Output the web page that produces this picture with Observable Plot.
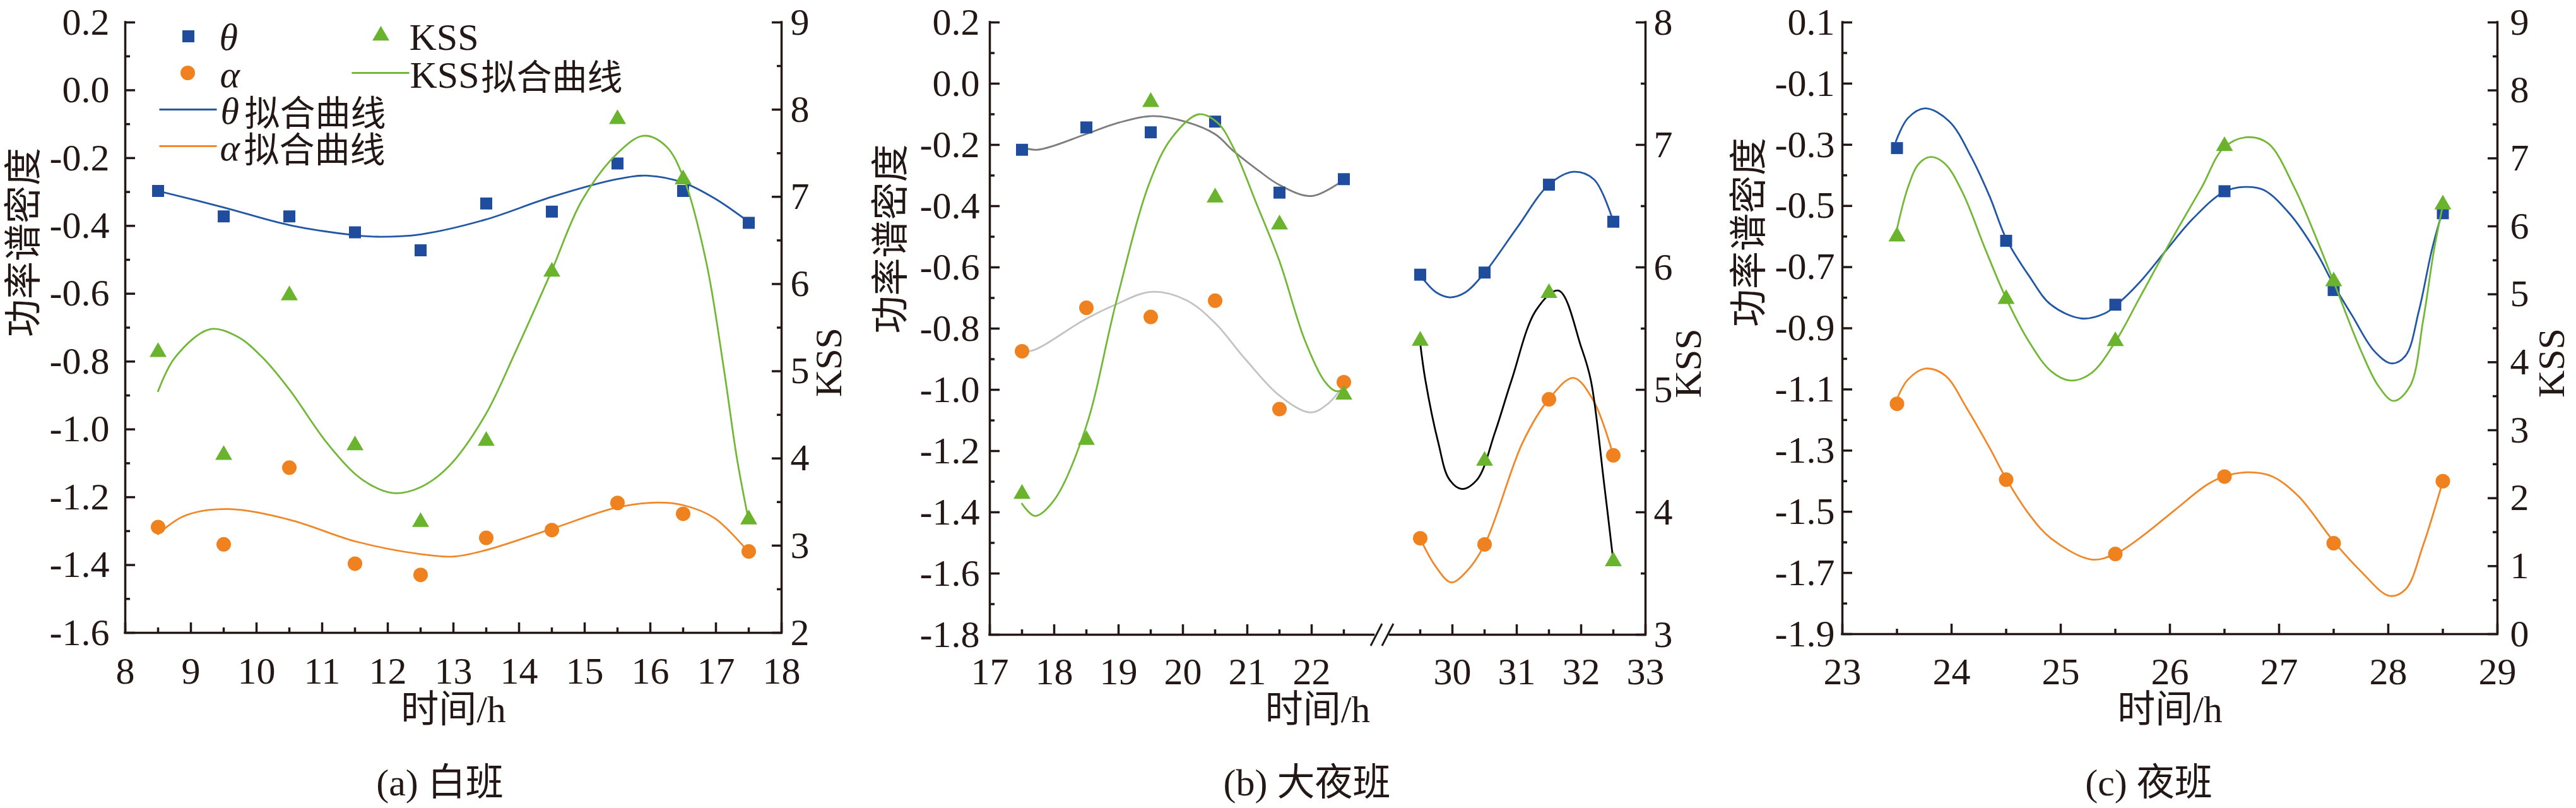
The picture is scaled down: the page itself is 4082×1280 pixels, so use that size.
<!DOCTYPE html>
<html><head><meta charset="utf-8">
<script src="https://cdn.jsdelivr.net/npm/d3@7"></script>
<script src="https://cdn.jsdelivr.net/npm/@observablehq/plot@0.6"></script>
<style>
html,body{margin:0;padding:0;background:#fff;}
#root{position:relative;width:4082px;height:1280px;overflow:hidden;font-family:"Liberation Serif","Noto Sans CJK SC",serif;color:#231815;}
.panel{position:absolute;top:0;height:1180px;}
.panel svg{font-family:"Liberation Serif","Noto Sans CJK SC",serif !important;}
.caption{position:absolute;top:1202px;font-size:60px;line-height:76px;white-space:nowrap;transform:translateX(-50%);}
</style></head><body><div id="root"></div>
<script>
// ---------- data: (a) 白班 ----------
const hoursA = [8.5, 9.5, 10.5, 11.5, 12.5, 13.5, 14.5, 15.5, 16.5, 17.5];
const thetaA = [-0.297, -0.372, -0.372, -0.419, -0.472, -0.334, -0.358, -0.216, -0.297, -0.391];
const alphaA = [-1.288, -1.339, -1.113, -1.396, -1.429, -1.320, -1.297, -1.217, -1.249, -1.360];
const kssA   = [5.22, 4.04, 5.87, 4.15, 3.27, 4.20, 6.14, 7.89, 7.20, 3.30];
const thetaFitHoursA = [8.5, 9.49, 10.51, 11.52, 11.86, 12.5, 13.48, 14.49, 15.5, 15.97, 16.51, 16.98, 17.49];
const thetaFitA      = [-0.297, -0.345, -0.398, -0.428, -0.432, -0.425, -0.382, -0.315, -0.262, -0.252, -0.273, -0.319, -0.387];
const alphaFitHoursA = [8.5, 8.89, 9.56, 10.51, 11.52, 12.5, 13.0, 13.48, 14.49, 15.5, 16.1, 16.51, 16.98, 17.49];
const alphaFitA      = [-1.309, -1.256, -1.235, -1.267, -1.331, -1.368, -1.375, -1.357, -1.294, -1.230, -1.216, -1.224, -1.262, -1.360];
const kssFitHoursA = [8.5, 8.75, 9.28, 9.70, 10.10, 10.51, 11.05, 11.52, 11.86, 12.12, 12.5, 12.93, 13.48, 13.95, 14.49, 14.96, 15.5, 15.9, 16.24, 16.51, 16.85, 17.12, 17.32, 17.49];
const kssFitA      = [4.77, 5.15, 5.48, 5.40, 5.15, 4.78, 4.20, 3.81, 3.65, 3.60, 3.67, 3.91, 4.49, 5.23, 6.14, 6.96, 7.50, 7.70, 7.58, 7.21, 6.26, 5.03, 4.00, 3.32];

// ---------- data: (b) 大夜班 ----------
const hoursB = [17.5, 18.5, 19.5, 20.5, 21.5, 22.5, 29.5, 30.5, 31.5, 32.5];
const thetaB = [-0.216, -0.143, -0.159, -0.124, -0.356, -0.312, -0.624, -0.617, -0.330, -0.451];
const alphaB = [-0.874, -0.732, -0.762, -0.709, -1.063, -0.975, -1.485, -1.505, -1.031, -1.214];
const kssB   = [4.15, 4.59, 7.35, 6.57, 6.35, 4.96, 5.40, 4.42, 5.79, 3.60];
const thetaFitHoursB1 = [17.5, 17.74, 18.48, 18.96, 19.53, 20.05, 20.5, 20.79, 21.15, 21.5, 22.0, 22.5];
const thetaFitB1      = [-0.207, -0.216, -0.166, -0.130, -0.106, -0.125, -0.165, -0.221, -0.280, -0.331, -0.367, -0.314];
const alphaFitHoursB1 = [17.5, 17.64, 18.48, 18.96, 19.51, 20.05, 20.49, 20.97, 21.5, 21.98, 22.25, 22.5];
const alphaFitB1      = [-0.867, -0.873, -0.770, -0.721, -0.680, -0.707, -0.780, -0.900, -1.019, -1.074, -1.046, -0.984];
const kssFitHoursB1 = [17.5, 17.7, 18.0, 18.49, 18.96, 19.48, 19.83, 20.25, 20.54, 20.79, 21.15, 21.5, 21.89, 22.2, 22.37, 22.5];
const kssFitB1      = [4.07, 3.97, 4.10, 4.69, 5.71, 6.69, 7.06, 7.25, 7.18, 6.97, 6.51, 6.05, 5.41, 5.07, 4.99, 5.00];
const thetaFitHoursB2 = [29.5, 29.75, 29.96, 30.2, 30.5, 31.0, 31.5, 31.88, 32.2, 32.5];
const thetaFitB2      = [-0.626, -0.682, -0.698, -0.682, -0.618, -0.472, -0.330, -0.288, -0.313, -0.450];
const alphaFitHoursB2 = [29.5, 29.74, 29.98, 30.2, 30.5, 31.09, 31.49, 31.88, 32.19, 32.5];
const alphaFitB2      = [-1.486, -1.577, -1.629, -1.598, -1.506, -1.173, -1.033, -0.961, -1.035, -1.214];
const kssFitHoursB2 = [29.5, 29.58, 29.78, 29.95, 30.15, 30.39, 30.66, 30.92, 31.3, 31.65, 32.0, 32.15, 32.36, 32.5];
const kssFitB2      = [5.38, 5.08, 4.57, 4.27, 4.19, 4.27, 4.65, 5.08, 5.65, 5.81, 5.35, 5.08, 4.22, 3.60];

// ---------- data: (c) 夜班 ----------
const hoursC = [23.5, 24.5, 25.5, 26.5, 27.5, 28.5];
const thetaC = [-0.311, -0.614, -0.823, -0.452, -0.775, -0.524];
const alphaC = [-1.147, -1.395, -1.638, -1.385, -1.603, -1.400];
const kssC   = [5.85, 4.93, 4.31, 7.18, 5.19, 6.32];
const thetaFitHoursC = [23.49, 23.6, 23.76, 23.98, 24.18, 24.35, 24.5, 24.71, 24.91, 25.19, 25.4, 25.5, 25.72, 25.97, 26.21, 26.49, 26.68, 26.86, 27.1, 27.35, 27.5, 27.67, 27.87, 28.03, 28.16, 28.28, 28.4, 28.5];
const thetaFitC      = [-0.289, -0.213, -0.181, -0.224, -0.340, -0.470, -0.607, -0.729, -0.823, -0.868, -0.852, -0.827, -0.751, -0.643, -0.542, -0.455, -0.438, -0.448, -0.527, -0.657, -0.758, -0.859, -0.974, -1.015, -0.989, -0.844, -0.643, -0.513];
const alphaFitHoursC = [23.49, 23.6, 23.76, 23.94, 24.14, 24.35, 24.5, 24.71, 24.91, 25.28, 25.5, 25.72, 26.05, 26.33, 26.49, 26.72, 26.94, 27.18, 27.5, 27.75, 28.01, 28.16, 28.32, 28.5];
const alphaFitC      = [-1.140, -1.068, -1.032, -1.054, -1.162, -1.292, -1.392, -1.508, -1.587, -1.656, -1.638, -1.587, -1.493, -1.414, -1.385, -1.371, -1.385, -1.450, -1.597, -1.695, -1.775, -1.753, -1.609, -1.400];
const kssFitHoursC = [23.49, 23.6, 23.7, 23.81, 23.94, 24.1, 24.31, 24.5, 24.71, 24.91, 25.09, 25.28, 25.5, 25.72, 26.01, 26.29, 26.49, 26.7, 26.9, 27.14, 27.35, 27.51, 27.75, 27.91, 28.05, 28.2, 28.32, 28.42, 28.5];
const kssFitC      = [5.89, 6.57, 6.92, 7.02, 6.92, 6.50, 5.66, 4.94, 4.30, 3.87, 3.73, 3.84, 4.30, 4.94, 5.79, 6.57, 7.15, 7.31, 7.22, 6.57, 5.79, 5.14, 4.17, 3.65, 3.43, 3.65, 4.62, 5.66, 6.31];

// ---------- ticks ----------
const xTicksA = [8, 9, 10, 11, 12, 13, 14, 15, 16, 17, 18];
const yTicksA = [0.2, 0.0, -0.2, -0.4, -0.6, -0.8, -1.0, -1.2, -1.4, -1.6];
const kTicksA = [2, 3, 4, 5, 6, 7, 8, 9];
const xTicksB = [17, 18, 19, 20, 21, 22, 30, 31, 32, 33];
const xMinorB = [17.5, 18.5, 19.5, 20.5, 21.5, 22.5, 29.5, 30.5, 31.5, 32.5];
const xBreakB = [22.5, 29.5];
const yTicksB = [0.2, 0.0, -0.2, -0.4, -0.6, -0.8, -1.0, -1.2, -1.4, -1.6, -1.8];
const kTicksB = [3, 4, 5, 6, 7, 8];
const xTicksC = [23, 24, 25, 26, 27, 28, 29];
const yTicksC = [0.1, -0.1, -0.3, -0.5, -0.7, -0.9, -1.1, -1.3, -1.5, -1.7, -1.9];
const kTicksC = [0, 1, 2, 3, 4, 5, 6, 7, 8, 9];

// ---------- styles ----------
const INK = "#231815";
const BLUE = "#1f4c9c", ORANGE = "#ef821f", GREEN = "#6ab42d";
const BLUE_L = "#2257a6", ORANGE_L = "#f0882a", GREEN_L = "#72b836", GRAY_L = "#7d7d7d", LGRAY_L = "#c3c3c3", BLACK_L = "#000000";
const FONT = '"Liberation Serif","Noto Sans CJK SC",serif';
const H = 1180, AX = 3.5, LW = 2.8, FS = 60;
const mids = a => d3.pairs(a, (p, q) => (p + q) / 2);
const fmt1 = d => d.toFixed(1);
const fmt0 = d => String(d);
const slash = {draw(ctx) { ctx.moveTo(-9, 17.5); ctx.lineTo(9, -17.5); }};
const hline = {draw(ctx) { ctx.moveTo(-45.5, 0); ctx.lineTo(45.5, 0); }};

// legend (panel a), offsets measured from the frame's top-left corner
const legendSymbolsA = [
  {sym: "square", color: BLUE, x: 100, y: 22, r: 10.7, stroke: false},
  {sym: "circle", color: ORANGE, x: 99, y: 80, r: 11.5, stroke: false},
  {sym: hline, color: BLUE_L, x: 99.5, y: 138, r: 5, stroke: true},
  {sym: hline, color: ORANGE_L, x: 99.5, y: 196, r: 5, stroke: true},
  {sym: "triangle", color: GREEN, x: 405, y: 21, r: 10, stroke: false},
  {sym: hline, color: GREEN_L, x: 404.5, y: 80, r: 5, stroke: true}
];
const legendTextsA = [
  {t: "θ", italic: true, x: 149, b: 43, fs: 60},
  {t: "α", italic: true, x: 150, b: 102, fs: 60},
  {t: "θ", italic: true, x: 151, b: 160, fs: 60}, {t: "拟合曲线", italic: false, x: 189, b: 163, fs: 56},
  {t: "α", italic: true, x: 150, b: 218, fs: 60}, {t: "拟合曲线", italic: false, x: 188, b: 221, fs: 56},
  {t: "KSS", italic: false, x: 450, b: 43, fs: 60},
  {t: "KSS", italic: false, x: 451, b: 103, fs: 60}, {t: "拟合曲线", italic: false, x: 564, b: 106, fs: 56}
];

function legendMarks() {
  const m = [];
  for (const s of legendSymbolsA) {
    m.push(Plot.dot([s], {frameAnchor: "top-left", dx: s.x, dy: s.y, symbol: s.sym, r: s.r,
      fill: s.stroke ? "none" : s.color, stroke: s.stroke ? s.color : "none", strokeWidth: 3}));
  }
  for (const t of legendTextsA) {
    m.push(Plot.text([t.t], {frameAnchor: "top-left", dx: t.x, dy: t.b, text: d => d, textAnchor: "start",
      lineAnchor: "bottom", fontSize: t.fs, fontFamily: FONT, fontStyle: t.italic ? "italic" : "normal", fill: INK}));
  }
  return m;
}

const panels = [
  {left: 0, width: 1380, ml: 198, mr: 142, mt: 35, mb: 178,
   x: {domain: [8, 18]}, xMajor: xTicksA, xMinor: mids(xTicksA),
   yDomain: [-1.6, 0.2], yMajor: yTicksA, kDomain: [2, 9], kMajor: kTicksA,
   hours: hoursA, theta: thetaA, alpha: alphaA, kss: kssA,
   leftFits: [[thetaFitHoursA, thetaFitA, BLUE_L], [alphaFitHoursA, alphaFitA, ORANGE_L]],
   kssFits: [[kssFitHoursA, kssFitA, GREEN_L]],
   padL: 25, padR: 14, padB: 38, yl: [-160, 15], kl: [75, 0], xlDy: 141,
   caption: "(a) 白班", capX: 697, legend: true},
  {left: 1370, width: 1380, ml: 198, mr: 143, mt: 35, mb: 175,
   x: null, xMajor: xTicksB, xMinor: xMinorB, broken: xBreakB,
   yDomain: [-1.8, 0.2], yMajor: yTicksB, kDomain: [3, 8], kMajor: kTicksB,
   hours: hoursB, theta: thetaB, alpha: alphaB, kss: kssB,
   leftFits: [[thetaFitHoursB1, thetaFitB1, GRAY_L], [alphaFitHoursB1, alphaFitB1, LGRAY_L],
              [thetaFitHoursB2, thetaFitB2, BLUE_L], [alphaFitHoursB2, alphaFitB2, ORANGE_L]],
   kssFits: [[kssFitHoursB1, kssFitB1, GREEN_L], [kssFitHoursB2, kssFitB2, BLACK_L]],
   padL: 16, padR: 13, padB: 36, yl: [-156, 8], kl: [68, 0], xlDy: 138,
   caption: "(b) 大夜班", capX: 2071, legend: false},
  {left: 2720, width: 1362, ml: 199, mr: 125, mt: 35, mb: 176,
   x: {domain: [23, 29]}, xMajor: xTicksC, xMinor: mids(xTicksC),
   yDomain: [-1.9, 0.1], yMajor: yTicksC, kDomain: [0, 9], kMajor: kTicksC,
   hours: hoursC, theta: thetaC, alpha: alphaC, kss: kssC,
   leftFits: [[thetaFitHoursC, thetaFitC, BLUE_L], [alphaFitHoursC, alphaFitC, ORANGE_L]],
   kssFits: [[kssFitHoursC, kssFitC, GREEN_L]],
   padL: 12, padR: 20, padB: 37, yl: [-147, -2], kl: [86, 0], xlDy: 139,
   caption: "(c) 夜班", capX: 3405, legend: false}
];

const root = document.getElementById("root");

for (const p of panels) {
  const div = document.createElement("div");
  div.className = "panel";
  div.style.left = p.left + "px";
  div.style.width = p.width + "px";
  root.appendChild(div);

  let xScale;
  if (p.broken) {
    const L = p.ml, R = p.width - p.mr, gap = 121;
    const d = [p.xMajor[0], p.broken[0], p.broken[1], p.xMajor[p.xMajor.length - 1]];
    const k = (R - L - gap) / ((d[1] - d[0]) + (d[3] - d[2]));
    xScale = {type: "linear", domain: d, range: [L, L + k * (d[1] - d[0]), L + k * (d[1] - d[0]) + gap, R]};
  } else {
    xScale = {type: "linear", domain: p.x.domain};
  }
  const xd = xScale.domain;
  const x0 = xd[0], x1 = xd[xd.length - 1];
  const style = {"font-family": FONT, "font-size": FS + "px", color: INK, background: "transparent",
                 overflow: "visible", position: "absolute", left: "0px", top: "0px"};
  const common = {width: p.width, height: H, marginLeft: p.ml, marginRight: p.mr, marginTop: p.mt, marginBottom: p.mb, style};
  const tf = {fontSize: FS, fontFamily: FONT, fill: INK};

  let bottomLine;
  if (p.broken) {
    const mid = (p.broken[0] + p.broken[1]) / 2;
    const segs = [[x0, mid - 0.75], [mid + 0.75, x1]];
    bottomLine = [
      Plot.ruleY(segs, {y: () => p.yDomain[0], x1: s => s[0], x2: s => s[1], stroke: INK, strokeWidth: AX, strokeLinecap: "square"}),
      Plot.dot([mid - 0.52, mid + 0.52], {x: d => d, y: () => p.yDomain[0], symbol: slash, r: 5, fill: "none", stroke: INK, strokeWidth: 3})
    ];
  } else {
    bottomLine = [Plot.ruleY([p.yDomain[0]], {stroke: INK, strokeWidth: AX, strokeLinecap: "square"})];
  }

  const leftMarks = [
    Plot.ruleX([x0], {stroke: INK, strokeWidth: AX, strokeLinecap: "square"}),
    Plot.ruleX([x1], {stroke: INK, strokeWidth: AX, strokeLinecap: "square"}),
    ...bottomLine,
    Plot.axisY({anchor: "left", ticks: p.yMajor, tickSize: -16, strokeWidth: AX, stroke: INK, fill: "none", label: null}),
    Plot.axisY({anchor: "left", ticks: mids(p.yMajor), tickSize: -8, strokeWidth: AX, stroke: INK, fill: "none", label: null}),
    Plot.axisY({anchor: "left", ticks: p.yMajor, tickSize: 0, tickPadding: p.padL, tickFormat: fmt1, ...tf, label: null}),
    Plot.axisX({anchor: "bottom", ticks: p.xMajor, tickSize: -16, strokeWidth: AX, stroke: INK, fill: "none", label: null}),
    Plot.axisX({anchor: "bottom", ticks: p.xMinor, tickSize: -8, strokeWidth: AX, stroke: INK, fill: "none", label: null}),
    Plot.axisX({anchor: "bottom", ticks: p.xMajor, tickSize: 0, tickPadding: p.padB, tickFormat: fmt0, ...tf, label: null}),
    ...p.leftFits.map(([h, v, c]) => Plot.line(h, {x: h, y: v, stroke: c, strokeWidth: LW, curve: "catmull-rom"})),
    Plot.dot(p.hours, {x: p.hours, y: p.theta, symbol: "square", r: 10.7, fill: BLUE, stroke: "none"}),
    Plot.dot(p.hours, {x: p.hours, y: p.alpha, symbol: "circle", r: 11.5, fill: ORANGE, stroke: "none"}),
    Plot.text(["功率谱密度"], {frameAnchor: "left", dx: p.yl[0], dy: p.yl[1], rotate: -90, text: d => d, ...tf}),
    Plot.text(["时间/h"], {frameAnchor: "bottom", dy: p.xlDy, text: d => d, ...tf}),
    ...(p.legend ? legendMarks() : [])
  ];

  const leftChart = Plot.plot({...common, x: {...xScale, label: null}, y: {domain: p.yDomain, label: null}, marks: leftMarks});
  div.appendChild(leftChart);

  const rightMarks = [
    Plot.axisY({anchor: "right", ticks: p.kMajor, tickSize: -16, strokeWidth: AX, stroke: INK, fill: "none", label: null}),
    Plot.axisY({anchor: "right", ticks: mids(p.kMajor), tickSize: -8, strokeWidth: AX, stroke: INK, fill: "none", label: null}),
    Plot.axisY({anchor: "right", ticks: p.kMajor, tickSize: 0, tickPadding: p.padR, tickFormat: fmt0, ...tf, label: null}),
    ...p.kssFits.map(([h, v, c]) => Plot.line(h, {x: h, y: v, stroke: c, strokeWidth: LW, curve: "catmull-rom"})),
    Plot.dot(p.hours, {x: p.hours, y: p.kss, symbol: "triangle", r: 10, fill: GREEN, stroke: "none"}),
    Plot.text(["KSS"], {frameAnchor: "right", dx: p.kl[0], dy: p.kl[1], rotate: -90, text: d => d, ...tf})
  ];
  const rightChart = Plot.plot({...common, x: {...xScale, label: null, axis: null}, y: {domain: p.kDomain, label: null}, marks: rightMarks});
  div.appendChild(rightChart);

  const cap = document.createElement("div");
  cap.className = "caption";
  cap.style.left = p.capX + "px";
  cap.textContent = p.caption;
  root.appendChild(cap);
}
</script></body></html>
